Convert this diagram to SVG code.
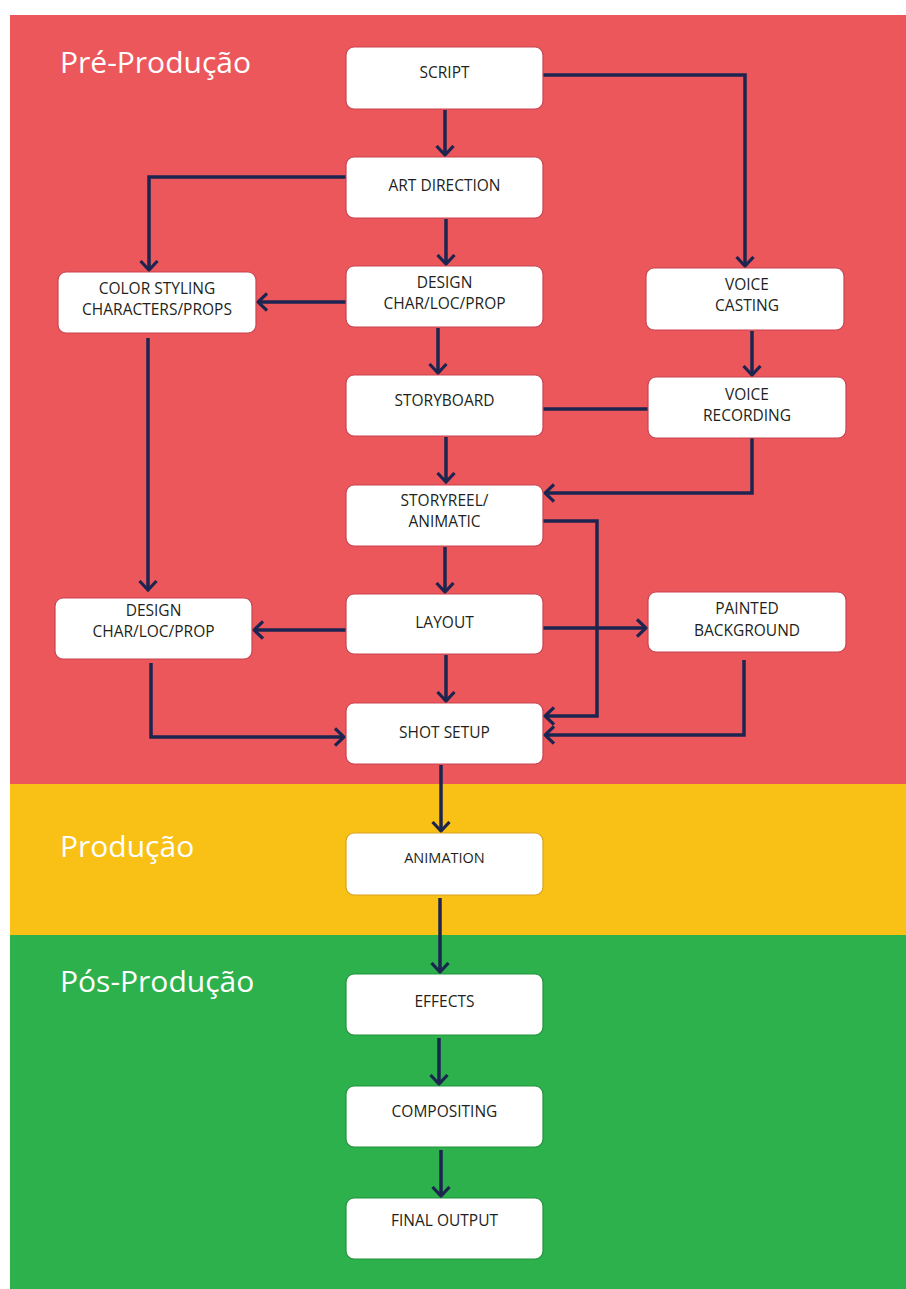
<svg xmlns="http://www.w3.org/2000/svg" width="906" height="1289" viewBox="0 0 906 1289">
<style>
.node{fill:#ffffff;stroke-width:1.2}
.r{stroke:#c8434f}
.y{stroke:#d9a21c}
.g{stroke:#23913c}
.t{font-family:"Open Sans","Liberation Sans",sans-serif;font-size:15.5px;fill:#231f20;text-anchor:middle}
.h{font-family:"Open Sans","Liberation Sans",sans-serif;font-size:30px;fill:#ffffff}
.c{fill:none;stroke:#1c2550;stroke-width:3.5}
</style>
<defs>
<marker id="ah" viewBox="0 0 12 20" refX="10" refY="10" markerWidth="12" markerHeight="20" markerUnits="userSpaceOnUse" orient="auto">
<path d="M1,1.5 L10,10 L1,18.5" fill="none" stroke="#1c2550" stroke-width="3.2"/>
</marker>
</defs>
<rect x="0" y="0" width="906" height="1289" fill="#ffffff"/>
<rect x="10" y="15" width="896" height="769" fill="#ec575c"/>
<rect x="10" y="784" width="896" height="151" fill="#f9c016"/>
<rect x="10" y="935" width="896" height="354" fill="#2db14c"/>
<text class="h" x="60" y="73">Pré-Produção</text>
<text class="h" x="60" y="857">Produção</text>
<text class="h" x="60" y="992">Pós-Produção</text>
<g id="connectors">
<path class="c" d="M445,110 V155" marker-end="url(#ah)"/>
<path class="c" d="M543,75 H745 V266" marker-end="url(#ah)"/>
<path class="c" d="M346,177 H149 V270" marker-end="url(#ah)"/>
<path class="c" d="M446,219 V264" marker-end="url(#ah)"/>
<path class="c" d="M346,302 H258" marker-end="url(#ah)"/>
<path class="c" d="M438,328 V373" marker-end="url(#ah)"/>
<path class="c" d="M752,331 V375" marker-end="url(#ah)"/>
<path class="c" d="M543,409 H648"/>
<path class="c" d="M752,438 V493 H545" marker-end="url(#ah)"/>
<path class="c" d="M446,437 V482" marker-end="url(#ah)"/>
<path class="c" d="M543,521 H597 V716 H545" marker-end="url(#ah)"/>
<path class="c" d="M445,547 V592" marker-end="url(#ah)"/>
<path class="c" d="M346,630 H254" marker-end="url(#ah)"/>
<path class="c" d="M543,628 H646" marker-end="url(#ah)"/>
<path class="c" d="M446,655 V701" marker-end="url(#ah)"/>
<path class="c" d="M151,663 V737 H344" marker-end="url(#ah)"/>
<path class="c" d="M744,660 V735 H545" marker-end="url(#ah)"/>
<path class="c" d="M148,338 V590" marker-end="url(#ah)"/>
<path class="c" d="M441,765 V831" marker-end="url(#ah)"/>
<path class="c" d="M440,898 V972" marker-end="url(#ah)"/>
<path class="c" d="M439,1038 V1084" marker-end="url(#ah)"/>
<path class="c" d="M441,1150 V1196" marker-end="url(#ah)"/>
</g>
<g id="script"><rect class="node r" x="346" y="47" width="197" height="62" rx="8"/><text class="t" x="444.5" y="78">SCRIPT</text></g>
<g id="art-direction"><rect class="node r" x="346" y="157" width="197" height="61" rx="8"/><text class="t" x="444.5" y="191">ART DIRECTION</text></g>
<g id="design-center"><rect class="node r" x="346" y="266" width="197" height="61" rx="8"/><text class="t" x="444.5" y="288">DESIGN</text><text class="t" x="444.5" y="309">CHAR/LOC/PROP</text></g>
<g id="storyboard"><rect class="node r" x="346" y="375" width="197" height="61" rx="8"/><text class="t" x="444.5" y="406">STORYBOARD</text></g>
<g id="storyreel"><rect class="node r" x="346" y="485" width="197" height="61" rx="8"/><text class="t" x="444.5" y="506">STORYREEL/</text><text class="t" x="444.5" y="527">ANIMATIC</text></g>
<g id="layout"><rect class="node r" x="346" y="594" width="197" height="60" rx="8"/><text class="t" x="444.5" y="628">LAYOUT</text></g>
<g id="shot-setup"><rect class="node r" x="346" y="703" width="197" height="61" rx="8"/><text class="t" x="444.5" y="738">SHOT SETUP</text></g>
<g id="color-styling"><rect class="node r" x="58" y="272" width="198" height="61" rx="8"/><text class="t" x="157" y="294">COLOR STYLING</text><text class="t" x="157" y="315">CHARACTERS/PROPS</text></g>
<g id="design-left"><rect class="node r" x="55" y="598" width="197" height="61" rx="8"/><text class="t" x="153.5" y="616">DESIGN</text><text class="t" x="153.5" y="637">CHAR/LOC/PROP</text></g>
<g id="voice-casting"><rect class="node r" x="646" y="268" width="198" height="62" rx="8"/><text class="t" x="747" y="290">VOICE</text><text class="t" x="747" y="311">CASTING</text></g>
<g id="voice-recording"><rect class="node r" x="648" y="377" width="198" height="61" rx="8"/><text class="t" x="747" y="400">VOICE</text><text class="t" x="747" y="421">RECORDING</text></g>
<g id="painted-background"><rect class="node r" x="648" y="592" width="198" height="60" rx="8"/><text class="t" x="747" y="614">PAINTED</text><text class="t" x="747" y="636">BACKGROUND</text></g>
<g id="animation"><rect class="node y" x="346" y="833" width="197" height="62" rx="8"/><text class="t" x="444.5" y="863" style="font-size:14.5px">ANIMATION</text></g>
<g id="effects"><rect class="node g" x="346" y="974" width="197" height="61" rx="8"/><text class="t" x="444.5" y="1007">EFFECTS</text></g>
<g id="compositing"><rect class="node g" x="346" y="1086" width="197" height="61" rx="8"/><text class="t" x="444.5" y="1117">COMPOSITING</text></g>
<g id="final-output"><rect class="node g" x="346" y="1198" width="197" height="61" rx="8"/><text class="t" x="444.5" y="1226">FINAL OUTPUT</text></g>
</svg>
